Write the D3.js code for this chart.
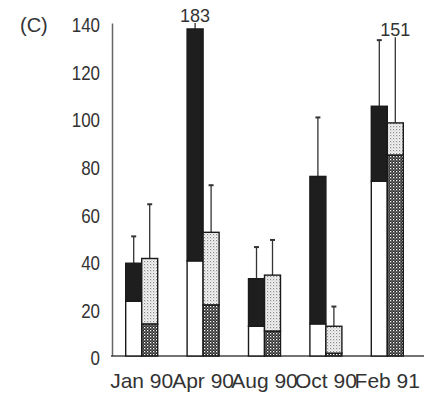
<!DOCTYPE html>
<html><head><meta charset="utf-8">
<script src="https://cdn.jsdelivr.net/npm/d3@7"></script>
<style>body{margin:0;background:#fff}svg{display:block}text{font-family:"Liberation Sans",Arial,sans-serif;fill:#2a2a2a}</style>
</head><body><div id="chart"></div>
<script>
const categories = ["Jan 90", "Apr 90", "Aug 90", "Oct 90", "Feb 91"];
// left bar: white lower segment + black upper segment
const leftLower = [23, 40, 12.5, 13.5, 73.5];
const leftTotal = [39, 183, 32.5, 75.5, 105];
const leftError = [50.5, 183, 46, 100.5, 133];
// right bar: cross-hatched lower segment + dotted upper segment
const rightLower = [13.5, 21.5, 10.5, 1.2, 84.5];
const rightTotal = [41, 52, 34, 12.5, 98];
const rightError = [64, 72, 49, 21, 151];
const yTicks = [0, 20, 40, 60, 80, 100, 120, 140];
const panelLabel = "(C)";
// off-scale values: shown truncated, with their value written above
const overflow = [
  {cat: "Apr 90", side: "left", label: "183", shownTo: 140},
  {cat: "Feb 91", side: "right", label: "151", shownTo: 134}
];
const barMax = 137.5;

const W = 424, H = 395;
const svg = d3.select("#chart").append("svg").attr("width", W).attr("height", H);

const defs = svg.append("defs");
const cross = defs.append("pattern").attr("id", "cross").attr("patternUnits", "userSpaceOnUse")
  .attr("width", 3).attr("height", 3);
cross.append("rect").attr("width", 3).attr("height", 3).attr("fill", "#2a2a2a");
cross.append("rect").attr("x", 0).attr("y", 0).attr("width", 1.3).attr("height", 1.3).attr("fill", "#fff");
cross.append("rect").attr("x", 1.5).attr("y", 1.5).attr("width", 1.1).attr("height", 1.1).attr("fill", "#bbb");
const dots = defs.append("pattern").attr("id", "dots").attr("patternUnits", "userSpaceOnUse")
  .attr("width", 3).attr("height", 3);
dots.append("rect").attr("width", 3).attr("height", 3).attr("fill", "#f4f4f4");
dots.append("rect").attr("x", 0).attr("y", 0).attr("width", 1.2).attr("height", 1.2).attr("fill", "#8a8a8a");
dots.append("rect").attr("x", 1.5).attr("y", 1.5).attr("width", 1).attr("height", 1).attr("fill", "#b0b0b0");

const y = d3.scaleLinear().domain([0, 140]).range([356, 23]);
const x = d3.scaleBand().domain(categories).range([111, 418]).padding(0);
const bw = 16;
const cx = c => x(c) + x.bandwidth() / 2;

// y axis
const ya = svg.append("g").attr("transform", "translate(112,0)")
  .call(d3.axisLeft(y).tickValues(yTicks).tickSize(0).tickPadding(0));
ya.select(".domain").attr("stroke", "#666").attr("stroke-width", 1.5);
ya.selectAll("text").attr("font-size", 19.5).attr("x", 0).attr("dy", "0.45em")
  .attr("transform", "translate(-12,0) scale(0.87,1)").style("fill", "#333");

// x axis
svg.append("line").attr("x1", 111).attr("x2", W).attr("y1", y(0)).attr("y2", y(0))
  .attr("stroke", "#444").attr("stroke-width", 1.6);
svg.append("g").selectAll("text").data(categories).join("text")
  .attr("x", d => cx(d)).attr("y", 388)
  .attr("text-anchor", "middle").attr("font-size", 21).style("fill", "#333").text(d => d);

svg.append("text").attr("x", 20).attr("y", 32).attr("font-size", 20).style("fill", "#333").text(panelLabel);

const rows = categories.map((c, i) => ({c, i}));
function ov(c, side) { return overflow.find(o => o.cat === c && o.side === side); }

const g = svg.append("g");
function errBar(cxp, top, val, side, c) {
  const o = ov(c, side);
  const shown = o ? Math.min(val, o.shownTo) : val;
  g.append("line").attr("x1", cxp).attr("x2", cxp).attr("y1", y(Math.min(top, barMax))).attr("y2", y(shown))
    .attr("stroke", "#333").attr("stroke-width", 1.3);
  if (!o) {
    g.append("line").attr("x1", cxp - 2.5).attr("x2", cxp + 2.5).attr("y1", y(shown) + 0.5).attr("y2", y(shown) + 0.5)
      .attr("stroke", "#333").attr("stroke-width", 2);
  } else {
    g.append("text").attr("x", cxp).attr("y", y(o.shownTo) - 1.5).attr("text-anchor", "middle")
      .attr("font-size", 18).style("fill", "#333").text(o.label);
  }
}
rows.forEach(({c, i}) => {
  errBar(cx(c) - bw / 2, leftTotal[i], leftError[i], "left", c);
  errBar(cx(c) + bw / 2, rightTotal[i], rightError[i], "right", c);
});

function seg(x0, v0, v1, fill) {
  const t = Math.min(v1, barMax);
  g.append("rect").attr("x", x0).attr("width", bw).attr("y", y(t)).attr("height", y(v0) - y(t))
    .attr("fill", fill).attr("stroke", "#1a1a1a").attr("stroke-width", 1.4);
}
rows.forEach(({c, i}) => {
  const l = cx(c) - bw, r = cx(c);
  seg(l, 0, leftLower[i], "#fff");
  seg(l, leftLower[i], leftTotal[i], "#1e1e1e");
  seg(r, 0, rightLower[i], "url(#cross)");
  seg(r, rightLower[i], rightTotal[i], "url(#dots)");
});
</script></body></html>
